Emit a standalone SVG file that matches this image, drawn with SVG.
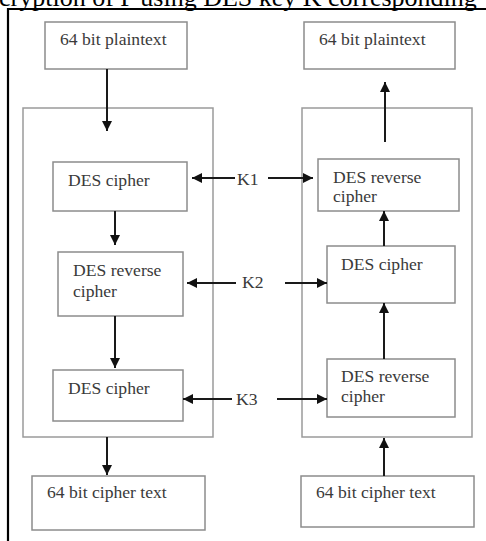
<svg xmlns="http://www.w3.org/2000/svg" width="486" height="541" viewBox="0 0 486 541">
<defs>
<style>
.box{fill:#fff;stroke:#8c8c8c;stroke-width:1.5}
.big{fill:none;stroke:#9a9a9a;stroke-width:1.5}
.t{font-family:"Liberation Serif","Times New Roman",serif;font-size:17.6px;fill:#3a3a3a}
.k{font-family:"Liberation Serif","Times New Roman",serif;font-size:17.6px;fill:#3a3a3a}
.c{stroke:#1a1a1a;stroke-width:2;fill:none;marker-end:url(#ah)}
</style>
<marker id="ah" markerUnits="userSpaceOnUse" markerWidth="12" markerHeight="12" refX="10" refY="5" orient="auto">
<path d="M0,0 L10,5 L0,10 Z" fill="#111"/>
</marker>
</defs>
<rect width="486" height="541" fill="#fff"/>
<text x="-1" y="6" font-family="Liberation Serif,'Times New Roman',serif" font-size="26" fill="#000">cryption of P using DES key K corresponding</text>
<path d="M8,541 V9 H486" fill="none" stroke="#000" stroke-width="2.2"/>

<g id="encrypt-frame"><rect class="big" x="23" y="108" width="190" height="329"/></g>
<g id="decrypt-frame"><rect class="big" x="302" y="108" width="170" height="329"/></g>

<g id="pt-left"><rect class="box" x="45" y="22" width="142" height="47"/><text class="t" x="60" y="45">64 bit plaintext</text></g>
<g id="enc1"><rect class="box" x="53" y="162" width="134" height="49"/><text class="t" x="68" y="186">DES cipher</text></g>
<g id="enc2"><rect class="box" x="58" y="252" width="125" height="64"/><text class="t" x="73" y="276">DES reverse</text><text class="t" x="73" y="297">cipher</text></g>
<g id="enc3"><rect class="box" x="53" y="370" width="130" height="51"/><text class="t" x="68" y="394">DES cipher</text></g>
<g id="ct-left"><rect class="box" x="32" y="476" width="173" height="54"/><text class="t" x="47" y="498">64 bit cipher text</text></g>

<g id="pt-right"><rect class="box" x="304" y="22" width="151" height="47"/><text class="t" x="319" y="45">64 bit plaintext</text></g>
<g id="dec1"><rect class="box" x="318" y="159" width="141" height="52"/><text class="t" x="333" y="183">DES reverse</text><text class="t" x="333" y="202">cipher</text></g>
<g id="dec2"><rect class="box" x="327" y="246" width="128" height="57"/><text class="t" x="341" y="270">DES cipher</text></g>
<g id="dec3"><rect class="box" x="327" y="359" width="128" height="58"/><text class="t" x="341" y="382">DES reverse</text><text class="t" x="341" y="402">cipher</text></g>
<g id="ct-right"><rect class="box" x="301" y="476" width="173" height="51"/><text class="t" x="316" y="498">64 bit cipher text</text></g>

<g id="k1"><text class="k" x="237" y="185">K1</text></g>
<g id="k2"><text class="k" x="242" y="288">K2</text></g>
<g id="k3"><text class="k" x="236" y="405">K3</text></g>

<g id="connectors">
<line class="c" x1="107" y1="69" x2="107" y2="131"/>
<line class="c" x1="115" y1="211" x2="115" y2="245"/>
<line class="c" x1="115" y1="316" x2="115" y2="368"/>
<line class="c" x1="107" y1="437" x2="107" y2="475"/>
<line class="c" x1="385" y1="142" x2="385" y2="82"/>
<line class="c" x1="384" y1="246" x2="384" y2="211"/>
<line class="c" x1="384" y1="359" x2="384" y2="303"/>
<line class="c" x1="384" y1="476" x2="384" y2="438"/>
<line class="c" x1="235" y1="178" x2="192" y2="178"/>
<line class="c" x1="268" y1="178" x2="313" y2="178"/>
<line class="c" x1="236" y1="283" x2="187" y2="283"/>
<line class="c" x1="285" y1="283" x2="327" y2="283"/>
<line class="c" x1="232" y1="399" x2="183" y2="399"/>
<line class="c" x1="277" y1="399" x2="327" y2="399"/>
</g>
</svg>
